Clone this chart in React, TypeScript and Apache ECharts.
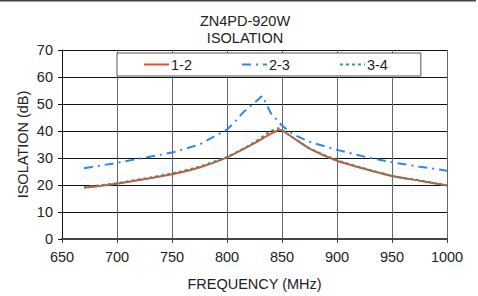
import React, { useEffect, useRef } from "react";
import * as echarts from "echarts";

const freqRed = [670, 700, 725, 750, 775, 800, 825, 840, 848, 860, 875, 900, 925, 950, 975, 1000];
const iso12 = [19.0, 20.5, 22.2, 24.0, 26.5, 30.2, 35.5, 39.0, 40.5, 37.5, 33.5, 29.0, 26.0, 23.3, 21.6, 19.8];

const freqBlue = [670, 700, 750, 775, 800, 805, 815, 825, 832, 840, 850, 860, 875, 900, 925, 950, 975, 1000];
const iso23 = [26.2, 28.2, 32.0, 35.0, 40.5, 42.5, 47.0, 50.5, 53.0, 46.5, 42.0, 38.8, 36.0, 33.0, 30.5, 28.4, 26.8, 25.3];

const freqGreen = [670, 700, 725, 750, 775, 800, 825, 838, 846, 860, 875, 900, 925, 950, 975, 1000];
const iso34 = [19.2, 20.7, 22.4, 24.3, 26.8, 30.4, 35.8, 39.5, 41.0, 37.6, 33.6, 29.2, 26.1, 23.4, 21.7, 19.9];

const xTicks = { min: 650, max: 1000, step: 50 };
const yTicks = { min: 0, max: 70, step: 10 };

const seriesNames = ["1-2", "2-3", "3-4"];

const FONT = "Liberation Sans, Arial, sans-serif";
const FS = 14.5;

export default function App() {
  const ref = useRef<HTMLDivElement>(null);
  useEffect(() => {
    if (!ref.current) return;
    const chart = echarts.init(ref.current, undefined, { renderer: "svg" });
    const pair = (xs: number[], ys: number[]) => xs.map((x, i) => [x, ys[i]]);
    chart.setOption({
      animation: false,
      backgroundColor: "#ffffff",
      textStyle: { fontFamily: FONT },
      title: {
        text: "ZN4PD-920W\nISOLATION",
        left: 240,
        textAlign: "center",
        top: 7,
        textStyle: { fontFamily: FONT, fontSize: FS, fontWeight: "normal", color: "#222", lineHeight: 17 },
      },
      legend: {
        left: 117,
        top: 53,
        padding: [4, 33, 4, 26],
        itemGap: 49,
        itemWidth: 25,
        itemHeight: 14,
        backgroundColor: "#ffffff",
        borderColor: "#555",
        borderWidth: 1,
        itemStyle: { opacity: 0 },
        textStyle: { fontFamily: FONT, fontSize: FS, color: "#222", padding: [0, 0, 0, -3] },
        data: seriesNames,
      },
      grid: { left: 62, right: 31, top: 50, bottom: 54, containLabel: false },
      xAxis: {
        type: "value",
        min: xTicks.min,
        max: xTicks.max,
        interval: xTicks.step,
        name: "FREQUENCY (MHz)",
        nameLocation: "middle",
        nameGap: 37,
        nameMoveOverlap: false,
        nameTextStyle: { fontFamily: FONT, fontSize: FS, color: "#222" },
        axisLine: { show: true, lineStyle: { color: "#444", width: 2 } },
        axisTick: { show: true, length: 4, lineStyle: { color: "#444" } },
        axisLabel: { fontFamily: FONT, fontSize: FS, color: "#222", margin: 10, formatter: (v: number) => String(v) },
        splitLine: { show: true, lineStyle: { color: "#666", width: 1 } },
      },
      yAxis: {
        type: "value",
        min: yTicks.min,
        max: yTicks.max,
        interval: yTicks.step,
        name: "ISOLATION (dB)",
        nameLocation: "middle",
        nameGap: 32,
        nameMoveOverlap: false,
        nameTextStyle: { fontFamily: FONT, fontSize: FS, color: "#222" },
        axisLine: { show: true, lineStyle: { color: "#111", width: 1 } },
        axisTick: { show: true, length: 4, lineStyle: { color: "#111" } },
        axisLabel: { fontFamily: FONT, fontSize: FS, color: "#222", margin: 9 },
        splitLine: { show: true, lineStyle: { color: "#111", width: 1 } },
      },
      series: [
        {
          name: seriesNames[0],
          type: "line",
          data: pair(freqRed, iso12),
          showSymbol: false,
          symbol: "none",
          smooth: 0.2,
          color: "#F5452F",
          lineStyle: { color: "#F5452F", width: 2, type: "solid" },
          z: 3,
        },
        {
          name: seriesNames[1],
          type: "line",
          data: pair(freqBlue, iso23),
          showSymbol: false,
          symbol: "none",
          color: "#2F86F2",
          lineStyle: { color: "#2F86F2", width: 2, type: [9, 5, 2, 5] },
          z: 3,
        },
        {
          name: seriesNames[2],
          type: "line",
          data: pair(freqGreen, iso34),
          showSymbol: false,
          symbol: "none",
          smooth: 0.2,
          color: "#27A274",
          lineStyle: { color: "#27A274", width: 2, type: [3, 3] },
          z: 4,
        },
      ],
      graphic: [
        { type: "line", shape: { x1: 0, y1: 0.75, x2: 476, y2: 0.75 }, style: { stroke: "#444", lineWidth: 1.5 } },
      ],
    });
    return () => chart.dispose();
  }, []);
  return (
    <div
      ref={ref}
      style={{ position: "absolute", left: 0, top: 0, width: 478, height: 296 }}
    />
  );
}
